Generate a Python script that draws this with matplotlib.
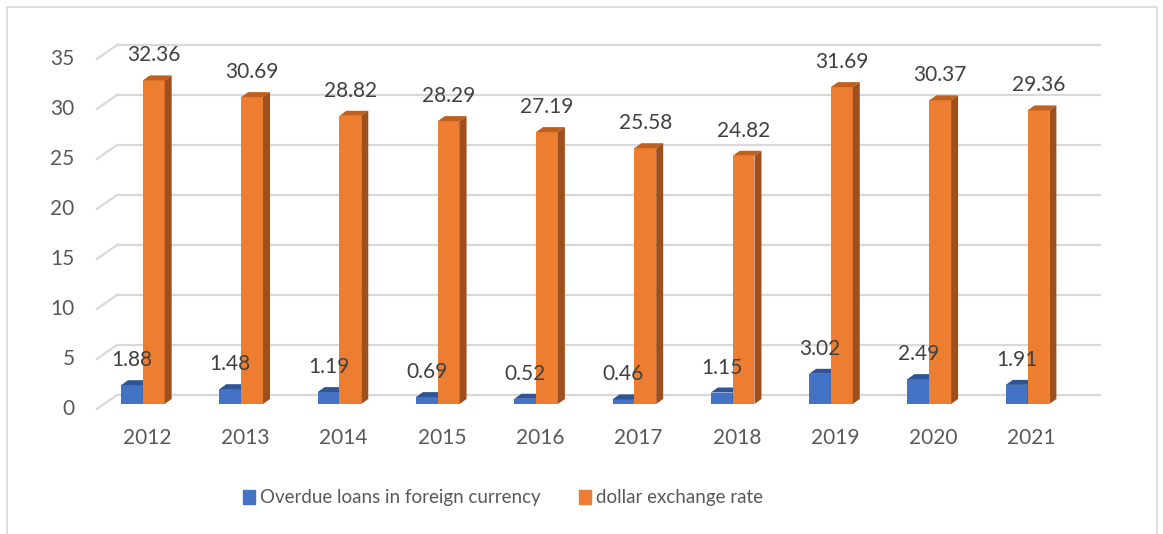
import matplotlib
matplotlib.use("Agg")
import matplotlib.pyplot as plt
from matplotlib.patches import Polygon, Rectangle

years = ["2012", "2013", "2014", "2015", "2016", "2017", "2018", "2019", "2020", "2021"]
overdue = [1.88, 1.48, 1.19, 0.69, 0.52, 0.46, 1.15, 3.02, 2.49, 1.91]
dollar = [32.36, 30.69, 28.82, 28.29, 27.19, 25.58, 24.82, 31.69, 30.37, 29.36]
yticks = [0, 5, 10, 15, 20, 25, 30, 35]

plt.rcParams['font.family'] = ['Lato', 'DejaVu Sans']

# (front, top, side) colours for the fake 3d bars
blue = ("#4472C4", "#2F5597", "#2F528F")
orange = ("#ED7D31", "#C0601F", "#9E4F1C")

W, H = 1163, 534
fig = plt.figure(figsize=(W / 100, H / 100), dpi=100)
ax = fig.add_axes([0, 0, 1, 1])
# 1 category = ~98 px, 1 value unit = 10 px
ax.set_xlim(-147 / 98.3, (W - 147) / 98.3)
ax.set_ylim((404 - H) / 10, 404 / 10)
ax.axis("off")

# chart frame
fig.patches.append(Rectangle((7 / W, -0.1), 1150 / W, 1 - 7 / H + 0.1,
                             transform=fig.transFigure, fill=False,
                             edgecolor="#D9D9D9", lw=1.2))

# back wall gridlines + floor diagonals
gx0, gx1 = -0.305, 9.705
for v in yticks:
    ax.plot([gx0, gx1], [v + 0.9, v + 0.9], color="#D9D9D9", lw=1.6, zorder=1,
            solid_capstyle="butt")
    ax.plot([-0.51, gx0], [v - 0.5, v + 0.9], color="#D9D9D9", lw=1.6, zorder=1)
    ax.text(-0.735, v - 0.5, str(v), ha="right", va="center", fontsize=15,
            color="#595959")

bw = 0.222
ddx, ddy = 0.071, 0.5


def bar3d(x0, h, cols):
    x1 = x0 + bw
    ax.add_patch(Polygon([(x0, 0), (x1, 0), (x1, h), (x0, h)], closed=True,
                         facecolor=cols[0], edgecolor="none", zorder=3))
    ax.add_patch(Polygon([(x0, h), (x1, h), (x1 + ddx, h + ddy), (x0 + ddx, h + ddy)],
                         closed=True, facecolor=cols[1], edgecolor="none", zorder=3))
    ax.add_patch(Polygon([(x1, 0), (x1 + ddx, ddy), (x1 + ddx, h + ddy), (x1, h)],
                         closed=True, facecolor=cols[2], edgecolor="none", zorder=3))


for i, yr in enumerate(years):
    xb = i - 0.264
    xo = xb + bw
    bar3d(xb, overdue[i], blue)
    bar3d(xo, dollar[i], orange)
    ax.text(xb + bw / 2, overdue[i] + 2.5, f"{overdue[i]:.2f}", ha="center",
            va="center", fontsize=15, color="#404040", zorder=4)
    ax.text(xo + bw / 2, dollar[i] + 2.5, f"{dollar[i]:.2f}", ha="center",
            va="center", fontsize=15, color="#404040", zorder=4)
    ax.text(i, -3.4, yr, ha="center", va="center", fontsize=15, color="#595959")

# legend
leg = ax.legend(handles=[Rectangle((0, 0), 1, 1, color=blue[0]),
                         Rectangle((0, 0), 1, 1, color=orange[0])],
                labels=["Overdue loans in foreign currency", "dollar exchange rate"],
                loc="center", bbox_to_anchor=(503 / W, 1 - 498 / H), ncol=2,
                frameon=False, handlelength=0.65, handleheight=0.8,
                handletextpad=0.3, columnspacing=2.0, fontsize=13.5)
for t in leg.get_texts():
    t.set_color("#595959")

fig.savefig("out.png", dpi=100)
